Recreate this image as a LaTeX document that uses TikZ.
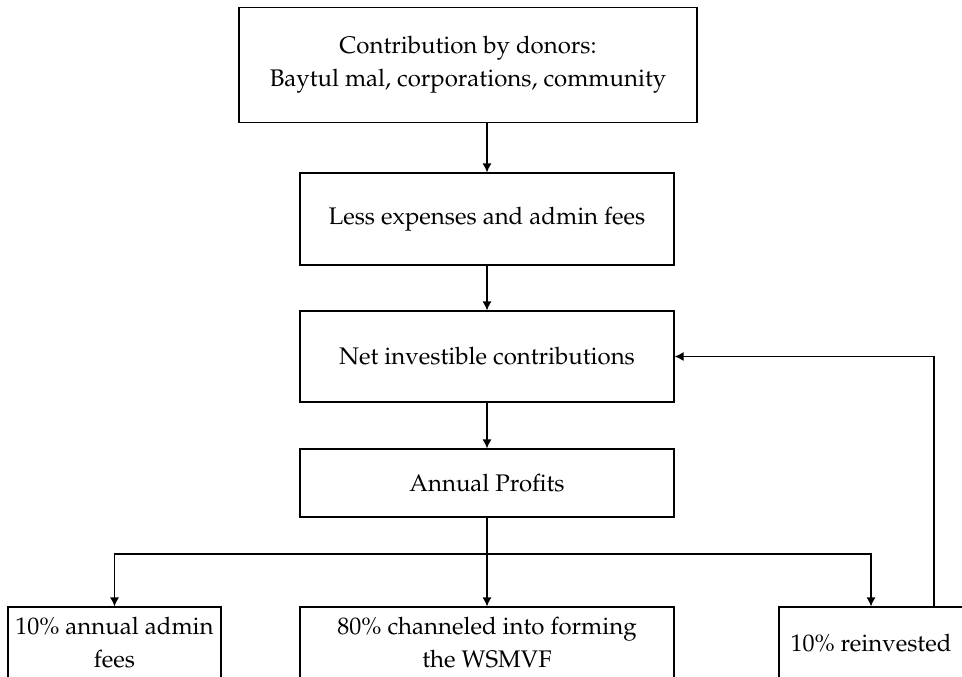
\documentclass[tikz,border=0pt]{standalone}
\usepackage[T1]{fontenc}
\usepackage{mathpazo}
\usetikzlibrary{arrows.meta,%
                positioning}

\begin{document}
\begin{tikzpicture}[x=0.5pt,y=-0.5pt,line width=0.6pt]
\tikzstyle{block}=[draw,shape=rectangle,inner sep=0pt,align=center,font=\fontsize{12}{16.5}\selectfont]
\tikzstyle{link} = [draw,-{Latex[length=4.5pt,width=4.5pt]}];

\clip (0,0) rectangle (962,676);

\draw (468,65) node[block,minimum width=229pt,minimum height=57.5pt] (donors) {Contribution by donors:\\Baytul mal, corporations, community};
\draw (487,219) node[block,minimum width=187pt,minimum height=46pt] (less) {Less expenses and admin fees};
\draw (487,356.5) node[block,minimum width=187pt,minimum height=45.5pt] (net) {Net investible contributions};
\draw (487,483) node[block,minimum width=187pt,minimum height=34pt] (profits) {Annual Profits};
\draw (114.5,643) node[block,minimum width=106.5pt,minimum height=36pt] (adminfee) {10\% annual admin\\fees};
\draw (487,643) node[block,minimum width=187pt,minimum height=36pt] (wsmvf) {80\% channeled into forming\\the WSMVF};
\draw (871,643) node[block,minimum width=92pt,minimum height=36pt] (reinv) {10\% reinvested};
\coordinate (bus) at (487,554);

\path[link] (less.north |- donors.south) -- (less.north);
\path[link] (less) -- (net);
\path[link] (net) -- (profits);
\path[link] (profits) -- (wsmvf);
\path[link] (bus) -| (adminfee.north);
\path[link] (bus) -| (reinv.north);
\path[link] ([xshift=31.5pt]reinv.north) |- (net.east);
\end{tikzpicture}
\end{document}
